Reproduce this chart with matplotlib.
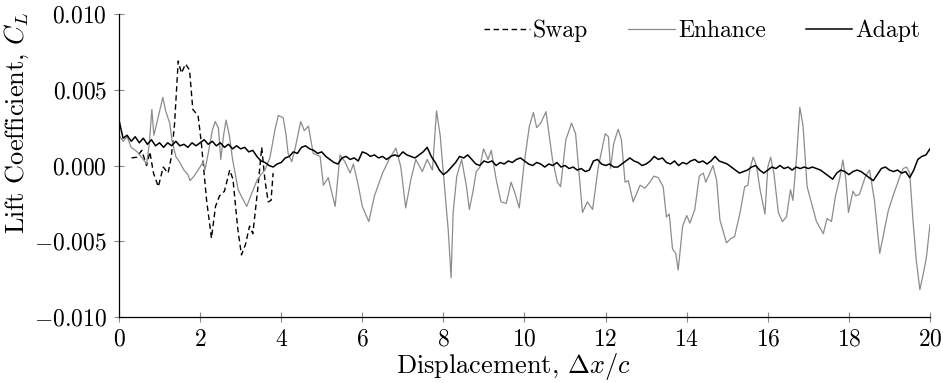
import numpy as np
import matplotlib
matplotlib.use("Agg")
import matplotlib.pyplot as plt
from matplotlib.ticker import FuncFormatter

plt.rcParams['font.family'] = ['cmr10']
plt.rcParams['mathtext.fontset'] = 'cm'
plt.rcParams['axes.formatter.use_mathtext'] = True

# lift coefficient values are in units of 1e-3
swap_x = [0.31, 0.44, 0.56, 0.68, 0.76, 0.85, 0.97, 1.09, 1.21, 1.29, 1.37, 1.46,
          1.54, 1.64, 1.74, 1.82, 1.95, 2.03, 2.16, 2.28, 2.38, 2.48, 2.6, 2.73,
          2.81, 2.93, 3.02, 3.12, 3.22, 3.3, 3.42, 3.52, 3.6, 3.68, 3.75, 3.8]
swap_y = [0.5, 0.55, 1.0, 0.0, 0.9, -0.5, -1.4, -0.1, -0.5, 0.55, 2.75, 6.9,
          6.1, 6.7, 6.3, 3.7, 3.3, 1.5, -2.3, -4.8, -2.7, -2.0, -1.7, -0.3,
          -0.9, -4.2, -5.9, -5.2, -4.0, -4.5, -1.6, 1.2, -1.0, -2.4, -2.3, -0.5]

enhance_x = [0.0, 0.1, 0.2, 0.3, 0.45, 0.6, 0.68, 0.75, 0.81, 0.86, 0.95, 1.08,
             1.15, 1.25, 1.31, 1.4, 1.5, 1.6, 1.7, 1.75, 1.85, 1.95, 2.08, 2.12,
             2.2, 2.3, 2.37, 2.45, 2.51, 2.58, 2.64, 2.72, 2.8, 2.94, 3.05, 3.15,
             3.25, 3.4, 3.5, 3.6, 3.72, 3.85, 3.93, 4.05, 4.12, 4.17, 4.26, 4.35,
             4.48, 4.57, 4.67, 4.79, 4.96, 5.04, 5.16, 5.25, 5.33, 5.45, 5.57, 5.7,
             5.78, 5.9, 6.0, 6.16, 6.3, 6.5, 6.66, 6.83, 6.95, 7.07, 7.2, 7.32,
             7.48, 7.6, 7.73, 7.83, 7.92, 8.0, 8.12, 8.19, 8.24, 8.33, 8.45, 8.57,
             8.64, 8.73, 8.81, 8.9, 8.99, 9.1, 9.18, 9.3, 9.42, 9.55, 9.67, 9.75,
             9.87, 9.99, 10.12, 10.22, 10.3, 10.4, 10.53, 10.69, 10.81, 10.89, 11.02, 11.16,
             11.26, 11.43, 11.55, 11.68, 11.82, 11.99, 12.07, 12.12, 12.2, 12.31, 12.39, 12.48,
             12.56, 12.68, 12.85, 12.97, 13.09, 13.19, 13.3, 13.42, 13.5, 13.57, 13.65, 13.73,
             13.79, 13.9, 14.0, 14.08, 14.2, 14.31, 14.41, 14.47, 14.57, 14.65, 14.74, 14.82,
             14.98, 15.1, 15.18, 15.31, 15.43, 15.51, 15.56, 15.64, 15.72, 15.81, 15.93, 16.0,
             16.07, 16.15, 16.26, 16.36, 16.46, 16.56, 16.62, 16.71, 16.79, 16.87, 16.97, 17.08,
             17.2, 17.37, 17.46, 17.57, 17.67, 17.77, 17.85, 17.92, 17.99, 18.1, 18.17, 18.26,
             18.41, 18.51, 18.63, 18.76, 18.88, 18.97, 19.09, 19.26, 19.34, 19.42, 19.5, 19.58,
             19.66, 19.75, 19.83, 19.91, 20.0]
enhance_y = [2.0, 1.6, 1.9, 1.2, 0.9, 0.4, 0.1, 1.5, 3.7, 2.0, 3.0, 4.5,
             3.6, 2.8, 1.6, 0.6, 0.2, -0.3, -0.6, -1.0, -0.7, -0.3, 0.25, -0.3,
             0.8, 2.3, 2.9, 2.5, 0.4, 2.0, 3.0, 2.0, 0.4, -1.6, -2.2, -2.7,
             -2.0, -1.0, -0.6, -0.3, 0.5, 2.4, 3.3, 3.15, 2.0, 0.8, 0.25, 1.2,
             2.9, 2.3, 2.6, 0.8, 0.6, -1.3, -0.8, -1.8, -2.7, 0.7, 0.25, -0.5,
             0.1, -1.3, -2.7, -3.7, -2.0, -0.5, 0.4, 1.15, -0.1, -2.8, -0.9, 0.4,
             -0.4, 0.4, -0.3, 3.6, 2.0, -0.5, -4.3, -7.4, -3.1, -0.7, 0.4, -1.4,
             -2.9, -1.7, -0.4, -0.1, 1.1, 0.4, 1.0, -0.9, -2.4, -2.5, -1.1, -1.7,
             -2.8, 0.1, 2.6, 3.5, 2.5, 2.8, 3.55, 0.4, -1.1, -1.4, 1.7, 2.8,
             2.1, -3.1, -2.4, -2.9, -0.1, 2.1, 1.9, -0.2, 1.45, 2.4, 1.7, -1.1,
             -1.0, -2.4, -1.3, -1.5, -1.1, -0.7, -0.8, -1.4, -3.4, -3.2, -5.5, -5.8,
             -6.9, -4.0, -3.3, -3.8, -2.9, -0.7, -0.5, -1.1, -0.5, 0.0, -1.0, -3.6,
             -5.1, -4.8, -4.7, -3.2, -1.4, -1.3, -0.2, 0.55, 0.0, -1.6, -3.2, -0.1,
             0.55, -0.5, -3.1, -3.7, -3.4, -1.6, -2.3, 0.55, 3.84, 2.6, -1.4, -2.5,
             -3.7, -4.5, -3.5, -3.7, -2.0, -0.9, 0.36, -0.8, -3.1, -1.7, -2.0, -1.9,
             -0.7, -0.3, -2.3, -5.8, -4.2, -3.0, -2.0, -0.7, -0.2, -0.1, -0.5, -3.6,
             -6.2, -8.2, -7.2, -6.1, -3.9]

# Adapt sampled every 0.1 in x, from 0 to 20
adapt_y = [3.0, 1.8, 2.0, 1.6, 1.9, 1.5, 1.8, 1.4, 1.7, 1.3,
           1.5, 1.2, 1.5, 1.3, 1.6, 1.3, 1.4, 1.2, 1.5, 1.3,
           1.5, 1.7, 1.4, 1.6, 1.3, 1.5, 1.2, 1.4, 1.1, 1.3,
           1.1, 1.2, 0.9, 1.0, 0.6, 0.3, 0.2, 0.0, -0.1, 0.1,
           0.2, 0.5, 0.6, 0.9, 0.8, 1.2, 1.3, 1.1, 1.0, 0.8,
           0.9, 0.6, 0.4, 0.2, 0.1, 0.5, 0.6, 0.4, 0.5, 0.3,
           0.9, 0.8, 0.6, 0.7, 0.5, 0.6, 0.4, 0.6, 0.7, 0.6,
           0.9, 0.7, 0.6, 0.5, 0.7, 0.9, 1.2, 0.6, 0.2, -0.3,
           -0.6, -0.4, -0.1, 0.2, 0.6, 0.5, 0.7, 0.4, 0.1, 0.0,
           0.3, 0.2, 0.3, 0.0, 0.2, 0.1, 0.3, 0.2, 0.4, 0.5,
           0.3, 0.1, 0.0, 0.2, 0.1, -0.1, 0.1, 0.0, 0.2, -0.1,
           0.0, -0.2, -0.1, -0.3, -0.2, -0.4, -0.3, 0.3, 0.4, 0.1,
           0.0, 0.1, -0.1, -0.1, 0.1, 0.3, 0.5, 0.3, 0.2, 0.0,
           0.1, 0.3, 0.6, 0.4, 0.5, 0.2, 0.1, 0.3, 0.0, 0.2,
           0.1, 0.3, 0.4, 0.2, 0.3, 0.1, 0.3, 0.6, 0.3, 0.2,
           0.1, -0.1, -0.3, -0.5, -0.4, -0.3, -0.1, 0.0, -0.3, -0.5,
           -0.3, -0.1, -0.2, 0.0, -0.2, -0.1, -0.3, -0.1, -0.2, -0.1,
           -0.2, -0.1, -0.2, -0.3, -0.5, -0.7, -0.9, -0.5, -0.3, -0.4,
           -0.6, -0.4, -0.3, -0.4, -0.6, -0.8, -1.0, -0.6, -0.2, -0.1,
           -0.3, -0.4, -0.3, -0.5, -0.4, -0.8, -0.3, 0.4, 0.6, 0.7,
           1.1]
adapt_x = np.arange(len(adapt_y)) / 10

fig = plt.figure(figsize=(9.43, 3.83), dpi=100)
ax = fig.add_axes([0.1262, 0.1723, 0.8600, 0.7911])

ax.plot(swap_x, np.array(swap_y) / 1000, color='black', lw=1.0,
        dashes=(4, 2.5), label='Swap')
ax.plot(enhance_x, np.array(enhance_y) / 1000, color='#8c8c8c', lw=0.9,
        label='Enhance')
ax.plot(adapt_x, np.array(adapt_y) / 1000, color='black', lw=1.1,
        label='Adapt')

ax.set_xlim(0, 20)
ax.set_ylim(-0.010, 0.010)
ax.set_xticks(np.arange(0, 21, 2))
ax.set_yticks([-0.010, -0.005, 0.0, 0.005, 0.010])
ax.yaxis.set_major_formatter(FuncFormatter(lambda v, p: r'$%.3f$' % v))
ax.xaxis.set_major_formatter(FuncFormatter(lambda v, p: r'$%d$' % v))
ax.tick_params(direction='inout', length=7, width=0.8, color='#888888',
               labelsize=17, pad=5)

for s in ['top', 'right']:
    ax.spines[s].set_visible(False)
for s in ['left', 'bottom']:
    ax.spines[s].set_linewidth(0.9)

ax.set_xlabel(r'Displacement, $\Delta x/c$', fontsize=19)
ax.set_ylabel(r'Lift Coefficient, $C_L$', fontsize=19)
ax.xaxis.set_label_coords(0.486, -0.112)
ax.yaxis.set_label_coords(-0.108, 0.64)

ax.legend(loc='upper right', ncol=3, frameon=False, fontsize=17,
          handlelength=1.95, columnspacing=1.7, handletextpad=0.15,
          borderaxespad=0, bbox_to_anchor=(1.0, 1.012))

fig.savefig('out.png', dpi=100)
